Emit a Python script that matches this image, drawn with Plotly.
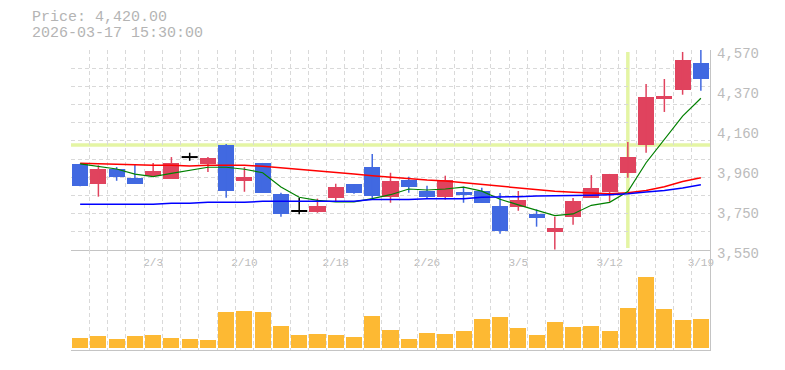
import plotly.graph_objects as go

# ---------------- data ----------------
dates = ["1/28", "1/29", "1/30", "2/2", "2/3", "2/4", "2/5", "2/6", "2/9", "2/10",
         "2/12", "2/13", "2/16", "2/17", "2/18", "2/19", "2/20", "2/24", "2/25", "2/26",
         "2/27", "3/2", "3/3", "3/4", "3/5", "3/6", "3/9", "3/10", "3/11", "3/12",
         "3/13", "3/16", "3/17", "3/18", "3/19"]

opens = [3990, 3888, 3963, 3919, 3929, 3914, 4024, 3989, 4085, 3904,
         3994, 3836, 3749, 3745, 3817, 3887, 3975, 3822, 3909, 3853,
         3822, 3847, 3853, 3774, 3771, 3735, 3643, 3720, 3817, 3847,
         3944, 4087, 4320, 4368, 4504]
highs = [3990, 3982, 3973, 3989, 3994, 4024, 4046, 4024, 4090, 3973,
         3994, 3842, 3817, 3812, 3888, 3887, 4040, 3944, 3924, 3878,
         3929, 3873, 3868, 3841, 3851, 3757, 3720, 3815, 3932, 3938,
         4101, 4397, 4422, 4560, 4570]
lows = [3875, 3822, 3903, 3888, 3929, 3914, 4005, 3948, 3817, 3847,
        3842, 3720, 3732, 3740, 3796, 3837, 3807, 3791, 3842, 3812,
        3807, 3791, 3791, 3633, 3750, 3669, 3552, 3679, 3817, 3796,
        3919, 4046, 4254, 4342, 4362]
closes = [3875, 3963, 3924, 3888, 3953, 3994, 4024, 4019, 3853, 3924,
          3842, 3735, 3749, 3776, 3873, 3842, 3827, 3904, 3873, 3822,
          3907, 3832, 3791, 3648, 3805, 3715, 3662, 3800, 3866, 3938,
          4024, 4330, 4335, 4519, 4420]

ma_short = [3989, 3976, 3963, 3937, 3924, 3941, 3958, 3972, 3972, 3962,
            3944, 3871, 3819, 3803, 3795, 3795, 3812, 3832, 3861, 3856,
            3861, 3871, 3850, 3809, 3780, 3751, 3725, 3734, 3778, 3793,
            3848, 3995, 4112, 4233, 4324]
ma_mid = [3993, 3990, 3987, 3983, 3982, 3982, 3979, 3982, 3982, 3982,
          3977, 3970, 3962, 3955, 3946, 3938, 3929, 3921, 3914, 3907,
          3902, 3893, 3883, 3873, 3865, 3858, 3849, 3844, 3839, 3837,
          3842, 3854, 3873, 3899, 3919]
ma_long = [3783, 3783, 3783, 3783, 3783, 3788, 3788, 3793, 3793, 3793,
           3798, 3798, 3798, 3798, 3798, 3798, 3807, 3807, 3807, 3812,
           3812, 3812, 3819, 3819, 3822, 3826, 3826, 3826, 3829, 3832,
           3837, 3846, 3854, 3866, 3883]

volumes = [97000, 117000, 87000, 117000, 127000, 97000, 87000, 77000, 357000, 367000,
           357000, 217000, 127000, 137000, 127000, 107000, 317000, 177000, 87000, 147000,
           137000, 167000, 287000, 307000, 197000, 127000, 257000, 207000, 217000, 167000,
           397000, 707000, 387000, 277000, 287000]

tick_labels = ["2/3", "2/10", "2/18", "2/26", "3/5", "3/12", "3/19"]
price_ticks = [3550, 3754, 3958, 4162, 4366, 4570]
price_tick_text = ["3,550", "3,750", "3,960", "4,160", "4,370", "4,570"]
price_range = [3550, 4570]
price_grid_count = 11
volume_range = [-23000, 977000]

crosshair_date = "3/13"
crosshair_price = 4085

header_price = "Price: 4,420.00"
header_time = "2026-03-17 15:30:00"

# ---------------- styles ----------------
UP = "#e0435e"
DOWN = "#4169e1"
DOJI = "#000000"
VOL = "#fdb933"
GRID = "#d9d9d9"
AXIS = "#c4c4c4"
TEXT = "#bbbbbb"
CROSS = "#e4f5a4"
FONT = "Liberation Mono"
BODY_W = 0.88

# page body has an 8px default margin; the figure is sized to fill the rest of the window
PAGE_PAD = 8
FIG_W, FIG_H = 785 - PAGE_PAD, 370 - PAGE_PAD
M_L, M_R, M_T, M_B = 71 - PAGE_PAD, 75, 50 - PAGE_PAD, 20
PLOT_W = FIG_W - M_L - M_R
PLOT_H = FIG_H - M_T - M_B

xs = list(range(len(dates)))

fig = go.Figure()

# moving average (long) on the label axis (same range as price axis)
fig.add_trace(go.Scatter(x=xs, y=ma_long, mode="lines", line=dict(color="#0000ff", width=1.5),
                         showlegend=False, xaxis="x", yaxis="y3"))

# wicks
for kind, color in (("up", UP), ("down", DOWN), ("doji", DOJI)):
    wx, wy = [], []
    for i in xs:
        o, c = opens[i], closes[i]
        k = "up" if c > o else ("down" if c < o else "doji")
        if k != kind:
            continue
        wx += [i, i, None]
        wy += [lows[i], highs[i], None]
    fig.add_trace(go.Scatter(x=wx, y=wy, mode="lines", line=dict(color=color, width=1.5),
                             hoverinfo="skip", showlegend=False, xaxis="x", yaxis="y"))

# bodies
for kind, color in (("up", UP), ("down", DOWN)):
    bx, bb, bh = [], [], []
    for i in xs:
        o, c = opens[i], closes[i]
        if (kind == "up" and c > o) or (kind == "down" and c < o):
            bx.append(i)
            bb.append(min(o, c))
            bh.append(abs(c - o))
    fig.add_trace(go.Bar(x=bx, y=bh, base=bb, width=BODY_W, marker=dict(color=color, line=dict(width=0)),
                         showlegend=False, xaxis="x", yaxis="y"))

# doji bars (open == close)
dx, dy = [], []
for i in xs:
    if opens[i] == closes[i]:
        dx += [i - BODY_W / 2, i + BODY_W / 2, None]
        dy += [opens[i], opens[i], None]
fig.add_trace(go.Scatter(x=dx, y=dy, mode="lines", line=dict(color=DOJI, width=2),
                         hoverinfo="skip", showlegend=False, xaxis="x", yaxis="y"))

# moving averages
fig.add_trace(go.Scatter(x=xs, y=ma_mid, mode="lines", line=dict(color="#ff0000", width=1.5),
                         showlegend=False, xaxis="x", yaxis="y"))
fig.add_trace(go.Scatter(x=xs, y=ma_short, mode="lines", line=dict(color="#008000", width=1.2),
                         showlegend=False, xaxis="x", yaxis="y"))

# volume
fig.add_trace(go.Bar(x=xs, y=volumes, width=BODY_W, marker=dict(color=VOL, line=dict(width=0)),
                     showlegend=False, xaxis="x2", yaxis="y2"))

# crosshair
cx = dates.index(crosshair_date)
fig.add_shape(type="line", xref="x", yref="y domain", x0=cx, x1=cx, y0=0.01, y1=0.99,
              line=dict(color=CROSS, width=3.5), layer="below")
fig.add_shape(type="line", xref="x domain", yref="y", x0=0, x1=1, y0=crosshair_price, y1=crosshair_price,
              line=dict(color=CROSS, width=3.5), layer="below")

grid_step = (price_range[1] - price_range[0]) / price_grid_count
grid_vals = [price_range[0] + k * grid_step for k in range(price_grid_count + 1)]
xr = [-0.5, len(dates) - 0.5]
tickpos = [dates.index(t) for t in tick_labels]

hdr_x = (30 - 71) / PLOT_W
fig.update_layout(
    width=FIG_W, height=FIG_H,
    margin=dict(l=M_L, r=M_R, t=M_T, b=M_B, autoexpand=False),
    paper_bgcolor="white", plot_bgcolor="white",
    barmode="overlay", bargap=0,
    font=dict(family=FONT, color=TEXT),
    xaxis=dict(domain=[0, 1], anchor="y", range=xr, tickmode="array", tickvals=tickpos, ticktext=tick_labels,
               showgrid=False, zeroline=False, showline=True, linecolor=AXIS, linewidth=1,
               ticks="", tickfont=dict(size=11, color=TEXT, family=FONT), ticklabelstandoff=2,
               minor=dict(tickmode="linear", tick0=-0.5, dtick=1, showgrid=True, gridcolor=GRID,
                          griddash="4px,3px", gridwidth=1, ticks="")),
    yaxis=dict(domain=[1 / 3, 1], anchor="x", range=price_range, side="right",
               tickmode="array", tickvals=grid_vals, showticklabels=False,
               showgrid=True, gridcolor=GRID, griddash="4px,3px", gridwidth=1, zeroline=False,
               showline=True, linecolor=AXIS, linewidth=1, ticks=""),
    yaxis3=dict(overlaying="y", anchor="x", range=price_range, side="right",
                tickmode="array", tickvals=price_ticks, ticktext=price_tick_text,
                showgrid=False, zeroline=False, showline=False, ticks="",
                tickfont=dict(size=14, color=TEXT, family=FONT),
                ticklabelstandoff=6, ticklabelshift=3),
    xaxis2=dict(domain=[0, 1], anchor="y2", range=xr, matches="x", showticklabels=False,
                tickmode="linear", tick0=-0.5, dtick=1, showgrid=True, gridcolor=GRID,
                griddash="4px,3px", gridwidth=1, zeroline=False, showline=True, linecolor=AXIS,
                linewidth=1, ticks=""),
    yaxis2=dict(domain=[0, 1 / 3], anchor="x2", range=volume_range, side="right",
                showticklabels=False, showgrid=False, zeroline=False, showline=True,
                linecolor=AXIS, linewidth=1, ticks=""),
    annotations=[
        dict(text=header_price, xref="paper", yref="paper", x=hdr_x, y=1 + (50 - 17.7) / PLOT_H,
             xanchor="left", yanchor="middle", showarrow=False,
             font=dict(size=15, color="#b4b4b4", family=FONT)),
        dict(text=header_time, xref="paper", yref="paper", x=hdr_x, y=1 + (50 - 33) / PLOT_H,
             xanchor="left", yanchor="middle", showarrow=False,
             font=dict(size=15, color="#b4b4b4", family=FONT)),
    ],
)

fig.write_html("out.html")
